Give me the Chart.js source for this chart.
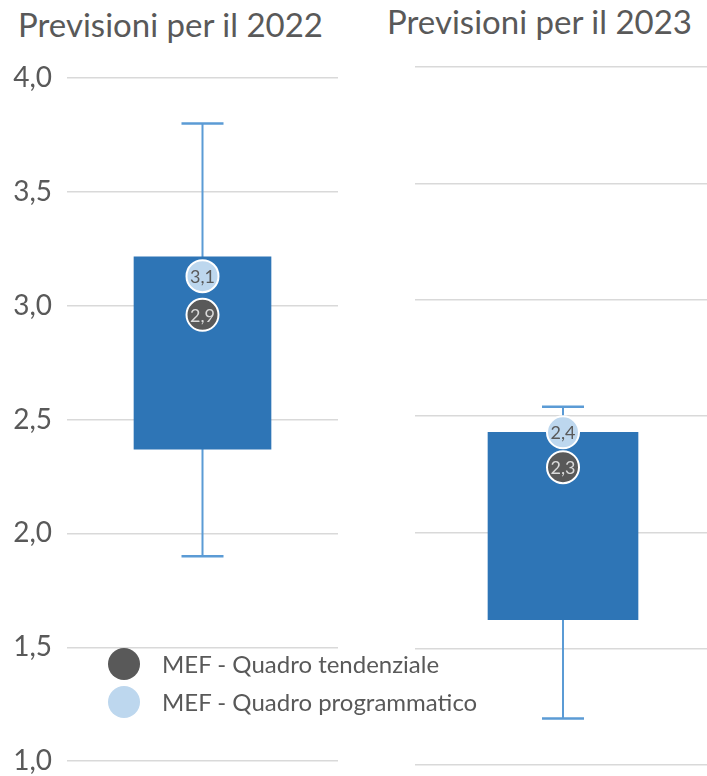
<!DOCTYPE html>
<html>
<head>
<meta charset="utf-8">
<script src="https://cdn.jsdelivr.net/npm/chart.js@4.4.1/dist/chart.umd.min.js"></script>
<style>
  html, body { margin: 0; padding: 0; background: #fff; overflow: hidden; }
  body { width: 707px; height: 776px; position: relative; font-family: Lato, sans-serif; color: #595959; }
  .wrap { position: absolute; top: 0; }
  .title { position: absolute; font-size: 33px; white-space: nowrap; }
  .legend { position: absolute; left: 108px; font-size: 24px; }
  .legend div { position: relative; height: 38px; line-height: 38px; padding-left: 54px; white-space: nowrap; }
  .legend span { position: absolute; left: 0; top: 3px; width: 32px; height: 32px; border-radius: 50%; }
</style>
</head>
<body>
<div class="title" style="left:18px; top:4px;">Previsioni per il 2022</div>
<div class="title" style="left:387px; top:1px;">Previsioni per il 2023</div>
<div class="wrap" style="left:0; width:338px; height:793px;"><canvas id="c2022"></canvas></div>
<div class="wrap" style="left:415px; width:296px; height:776px;"><canvas id="c2023"></canvas></div>
<div class="legend" style="top:645px;">
  <div><span style="background:#595959"></span>MEF - Quadro tendenziale</div>
  <div><span style="background:#BDD7EE"></span>MEF - Quadro programmatico</div>
</div>
<script>
// box: [q1, q3], whiskers: [min, max]
const years = ['2022', '2023'];
const boxes = [[2.37, 3.215], [1.625, 2.43]];
const whiskers = [[1.90, 3.80], [1.20, 2.54]];
const tendenziale = [2.96, 2.28];
const programmatico = [3.13, 2.43];
const tendLabels = ['2,9', '2,3'];
const progLabels = ['3,1', '2,4'];
const yTicks = [1.0, 1.5, 2.0, 2.5, 3.0, 3.5, 4.0];

const dotLabelPlugin = {
  id: 'dotLabels',
  afterDatasetsDraw(chart) {
    const ctx = chart.ctx;
    chart.data.datasets.forEach((ds, i) => {
      if (!ds.dotLabels) return;
      const meta = chart.getDatasetMeta(i);
      meta.data.forEach((pt, j) => {
        ctx.save();
        ctx.font = '18px Lato, sans-serif';
        ctx.fillStyle = ds.labelColor;
        ctx.textAlign = 'center';
        ctx.textBaseline = 'middle';
        ctx.fillText(ds.dotLabels[j], pt.x, pt.y + 1);
        ctx.restore();
      });
    });
  }
};

function makeChart(id, idx, showTicks, barWidth, padTop, padBottom) {
  const cat = years[idx];
  return new Chart(document.getElementById(id), {
    data: {
      labels: [cat],
      datasets: [
        {
          type: 'line',
          data: [{x: cat, y: programmatico[idx]}],
          showLine: false,
          pointRadius: 16,
          pointHoverRadius: 16,
          pointBackgroundColor: '#BDD7EE',
          pointBorderColor: '#ffffff',
          pointBorderWidth: 2,
          dotLabels: [progLabels[idx]],
          labelColor: '#595959',
          order: 0
        },
        {
          type: 'line',
          data: [{x: cat, y: tendenziale[idx]}],
          showLine: false,
          pointRadius: 16,
          pointHoverRadius: 16,
          pointBackgroundColor: '#595959',
          pointBorderColor: '#ffffff',
          pointBorderWidth: 2,
          dotLabels: [tendLabels[idx]],
          labelColor: '#d9d9d9',
          order: 1
        },
        {
          type: 'bar',
          data: [boxes[idx]],
          backgroundColor: '#2E75B6',
          barThickness: barWidth,
          order: 2
        },
        {
          type: 'line',
          data: [{x: cat, y: whiskers[idx][0]}, {x: cat, y: whiskers[idx][1]}],
          borderColor: '#5B9BD5',
          borderWidth: 2,
          pointStyle: 'line',
          pointRadius: 21,
          pointBorderColor: '#5B9BD5',
          pointBorderWidth: 2.5,
          order: 3
        }
      ]
    },
    options: {
      responsive: true,
      maintainAspectRatio: false,
      animation: false,
      layout: { autoPadding: false, padding: { top: padTop, bottom: padBottom, left: 0, right: 0 } },
      plugins: { legend: { display: false }, tooltip: { enabled: false } },
      scales: {
        x: { display: false },
        y: {
          min: 1.0,
          max: 4.0,
          afterBuildTicks: (scale) => { scale.ticks = yTicks.map(v => ({ value: v })); },
          afterFit: (scale) => { scale.width = showTicks ? 67 : 0; },
          border: { display: false },
          grid: { color: '#d9d9d9', lineWidth: 1.5, drawTicks: false },
          ticks: {
            display: showTicks,
            padding: 15,
            color: '#595959',
            font: { family: 'Lato', size: 28 },
            callback: (v) => v.toFixed(1).replace('.', ',')
          }
        }
      }
    },
    plugins: [dotLabelPlugin]
  });
}

makeChart('c2022', 0, true, 137, 78, 14);
makeChart('c2023', 1, false, 150, 67, 11);
</script>
</body>
</html>
